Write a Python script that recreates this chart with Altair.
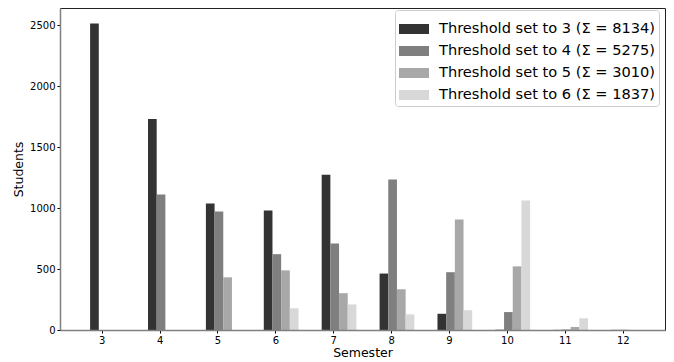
import altair as alt
import pandas as pd

semesters = [3, 4, 5, 6, 7, 8, 9, 10, 11, 12]
series_names = [
    "Threshold set to 3 (Σ = 8134)",
    "Threshold set to 4 (Σ = 5275)",
    "Threshold set to 5 (Σ = 3010)",
    "Threshold set to 6 (Σ = 1837)",
]
t3 = [2514, 1730, 1037, 980, 1273, 463, 133, 2, 1, 1]
t4 = [0, 1111, 972, 622, 709, 1234, 474, 147, 4, 2]
t5 = [0, 0, 432, 489, 302, 334, 906, 522, 25, 0]
t6 = [0, 0, 0, 178, 210, 128, 162, 1063, 96, 0]
colors = ["#333333", "#7f7f7f", "#a8a8a8", "#d8d8d8"]

rows = []
for i, (name, vals) in enumerate(zip(series_names, [t3, t4, t5, t6])):
    for s, v in zip(semesters, vals):
        rows.append({"semester": s, "series": name, "idx": i, "students": v})
df = pd.DataFrame(rows)

FONT = "DejaVu Sans"

bars = (
    alt.Chart(df)
    .transform_calculate(
        x0="datum.semester - 0.2 + 0.15 * datum.idx",
        x1="datum.semester - 0.05 + 0.15 * datum.idx",
    )
    .mark_bar(strokeWidth=0)
    .encode(
        x=alt.X(
            "x0:Q",
            scale=alt.Scale(domain=[2.28, 12.73], nice=False, zero=False),
            axis=alt.Axis(
                values=semesters,
                title="Semester",
                grid=False,
                tickSize=3,
                tickColor="#000000",
                domainColor="#808080",
                domainWidth=1.5,
                labelFontSize=10,
                labelFont=FONT,
                labelColor="#000000",
                labelPadding=2,
                titleFont=FONT,
                titleFontSize=12.5,
                titleFontWeight="normal",
                titleColor="#000000",
                titlePadding=1,
                zindex=1,
            ),
        ),
        x2="x1:Q",
        y=alt.Y(
            "students:Q",
            scale=alt.Scale(domain=[0, 2641], nice=False),
            axis=alt.Axis(
                values=[0, 500, 1000, 1500, 2000, 2500],
                format="d",
                title="Students",
                grid=False,
                tickSize=3,
                tickColor="#000000",
                domainColor="#808080",
                domainWidth=1.5,
                labelFontSize=10,
                labelFont=FONT,
                labelColor="#000000",
                labelPadding=2,
                titleFont=FONT,
                titleFontSize=12.5,
                titleFontWeight="normal",
                titleColor="#000000",
                titlePadding=4,
                zindex=1,
            ),
        ),
        y2=alt.datum(0),
        color=alt.Color(
            "series:N",
            scale=alt.Scale(domain=series_names, range=colors),
            legend=alt.Legend(
                orient="none",
                legendX=335,
                legendY=2,
                title=None,
                symbolType="M-1,-0.333H1V0.333H-1Z",
                symbolSize=900,
                symbolStrokeWidth=0,
                symbolOpacity=1,
                labelFont=FONT,
                labelFontSize=14.6,
                labelColor="#000000",
                labelOffset=10,
                labelLimit=0,
                rowPadding=-2.2,
                padding=4,
                fillColor="white",
                strokeColor="#cccccc",
                cornerRadius=3,
            ),
        ),
    )
    .properties(
        width=605,
        height=322,
        autosize=alt.AutoSizeParams(type="none"),
        padding={"left": 52, "top": 0, "right": 1, "bottom": 32},
    )
    .configure_view(stroke="#222222", strokeWidth=1)
)

chart = bars
chart.save("out.html", embed_options={"renderer": "svg", "actions": False})
